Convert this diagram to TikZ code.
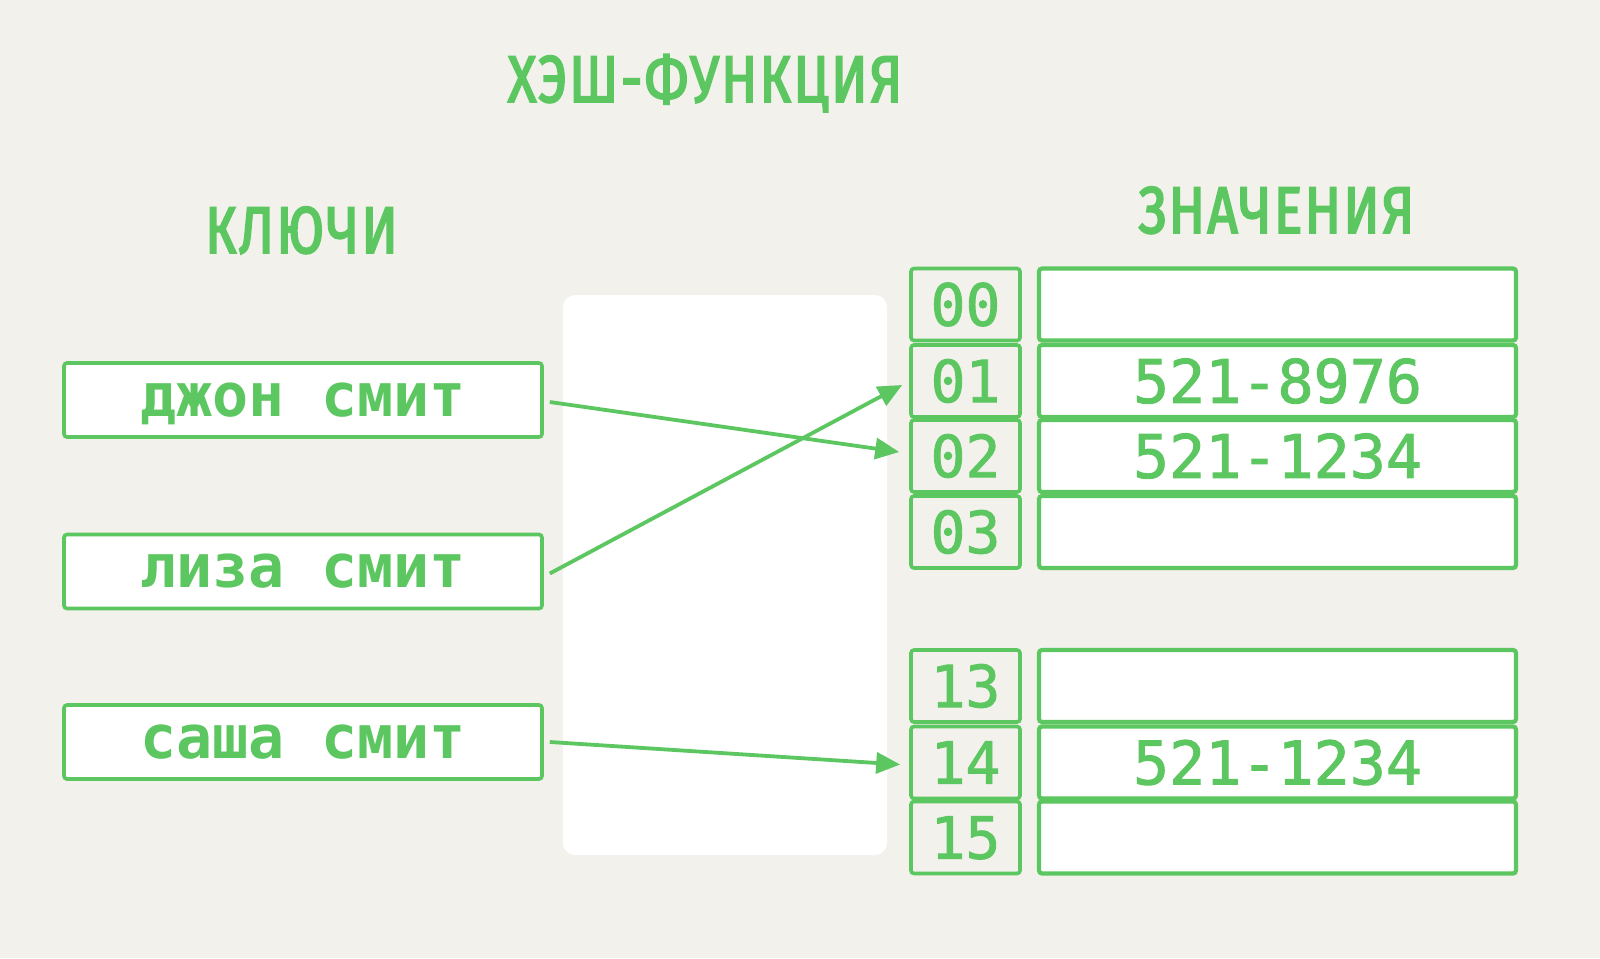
\documentclass[tikz,border=0pt]{standalone}
\usepackage{fontspec}
\usetikzlibrary{arrows.meta}
\newfontfamily\headfont[FakeStretch=0.8,FakeBold=3,LetterSpace=4]{Fira Sans}
\newfontfamily\monofont{DejaVu Sans Mono}
\newfontfamily\monothick[FakeBold=1.5]{DejaVu Sans Mono}
\definecolor{grn}{RGB}{92,199,96}
\definecolor{bgc}{RGB}{242,241,236}
\tikzset{
  keybox/.style={draw=grn, line width=1.8pt, fill=white, rounded corners=1.5pt,
    minimum width=239pt, minimum height=37pt, inner sep=0pt, text=grn,
    font=\monofont\bfseries\fontsize{30}{30}\selectfont, text height=16.4pt, text depth=0pt},
  idxbox/.style={draw=grn, line width=1.8pt, rounded corners=1.5pt,
    minimum width=54.5pt, minimum height=36pt, inner sep=0pt, text=grn,
    font=\monothick\fontsize{29}{29}\selectfont, text height=21.1pt, text depth=0pt},
  valbox/.style={draw=grn, line width=2.1pt, fill=white, rounded corners=1.5pt,
    minimum width=238.5pt, minimum height=36pt, inner sep=0pt, text=grn,
    font=\monothick\fontsize{30}{30}\selectfont, text height=21.9pt, text depth=0pt},
  heading/.style={text=grn, anchor=base, inner sep=0pt,
    font=\headfont\fontsize{33}{33}\selectfont},
  arr/.style={draw=grn, line width=1.9pt, -{Triangle[length=12pt,width=10.5pt]}}
}
\begin{document}
\begin{tikzpicture}[x=0.5pt,y=-0.5pt]
\fill[bgc] (0,0) rectangle (1600,958);
\useasboundingbox (0,0) rectangle (1600,958);

\fill[white, rounded corners=6pt] (563,295) rectangle (887,855);

\node[heading] (title) at (705,102) {ХЭШ-ФУНКЦИЯ};
\node[heading] (hkeys) at (301.5,253) {КЛЮЧИ};
\node[heading] (hvals) at (1276.5,233) {ЗНАЧЕНИЯ};

\node[keybox] (k1) at (303,400) {джон смит};
\node[keybox] (k2) at (303,571.5) {лиза смит};
\node[keybox] (k3) at (303,742) {саша смит};

\node[idxbox] (i00) at (965.5,304.5) {00};
\node[idxbox] (i01) at (965.5,381) {01};
\node[idxbox] (i02) at (965.5,456) {02};
\node[idxbox] (i03) at (965.5,532) {03};
\node[idxbox] (i13) at (965.5,686) {13};
\node[idxbox] (i14) at (965.5,762.5) {14};
\node[idxbox] (i15) at (965.5,837.5) {15};

\node[valbox] (v00) at (1277.5,304.5) {};
\node[valbox] (v01) at (1277.5,381) {521-8976};
\node[valbox] (v02) at (1277.5,456) {521-1234};
\node[valbox] (v03) at (1277.5,532) {};
\node[valbox] (v13) at (1277.5,686) {};
\node[valbox] (v14) at (1277.5,762.5) {521-1234};
\node[valbox] (v15) at (1277.5,837.5) {};

\draw[arr] ([xshift=3pt,yshift=-1pt]k1.east) -- ([xshift=-5pt,yshift=2pt]i02.west);
\draw[arr] ([xshift=3pt,yshift=-1pt]k2.east) -- ([xshift=-3.5pt,yshift=-2pt]i01.west);
\draw[arr] ([xshift=3pt]k3.east) -- ([xshift=-4.5pt,yshift=-1pt]i14.west);
\end{tikzpicture}
\end{document}
